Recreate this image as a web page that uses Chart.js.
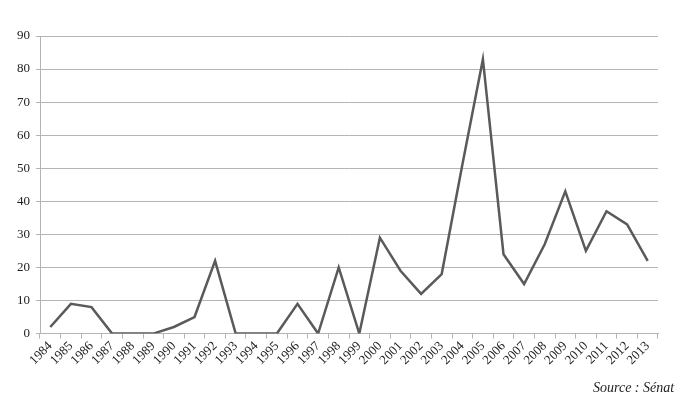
<!DOCTYPE html>
<html>
<head>
<meta charset="utf-8">
<script src="https://cdn.jsdelivr.net/npm/chart.js@4"></script>
<style>
html,body{margin:0;padding:0;background:#fff;}
#wrap{position:relative;width:695px;height:412px;}
#src{position:absolute;left:593px;top:380px;font-family:"Liberation Serif","DejaVu Serif",serif;font-style:italic;font-size:14px;color:#222;white-space:nowrap;}
</style>
</head>
<body>
<div id="wrap"><canvas id="c" width="695" height="412"></canvas><div id="src"></div></div>
<script>
const years = ['1984','1985','1986','1987','1988','1989','1990','1991','1992','1993','1994','1995','1996','1997','1998','1999','2000','2001','2002','2003','2004','2005','2006','2007','2008','2009','2010','2011','2012','2013'];
const values = [2,9,8,0,0,0,2,5,22,0,0,0,9,0,20,0,29,19,12,18,51,83,24,15,27,43,25,37,33,22];
const sourceText = 'Source : Sénat';
document.getElementById('src').textContent = sourceText;

const tickFontY = {family: '"Liberation Serif", "DejaVu Serif", serif', size: 13};
const tickFontX = {family: '"Liberation Serif", "DejaVu Serif", serif', size: 13};

new Chart(document.getElementById('c'), {
  type: 'line',
  data: {
    labels: years,
    datasets: [{
      data: values,
      borderColor: '#5a5a5a',
      borderWidth: 2.5,
      pointRadius: 0,
      tension: 0,
      fill: false
    }]
  },
  options: {
    responsive: false,
    animation: false,
    layout: {padding: {left: 11, right: 37, top: 36, bottom: 44}},
    plugins: {
      legend: {display: false},
      tooltip: {enabled: false},
      title: {display: false}
    },
    scales: {
      x: {
        offset: true,
        grid: {display: true, drawOnChartArea: false, drawTicks: true, tickLength: 5, color: '#b4b4b4', offset: true},
        border: {display: true, color: '#b4b4b4', width: 1},
        ticks: {color: '#222', font: tickFontX, maxRotation: 45, minRotation: 45, autoSkip: false, padding: 0}
      },
      y: {
        min: 0, max: 90,
        ticks: {stepSize: 10, color: '#222', font: tickFontY, padding: 6},
        grid: {color: '#b4b4b4', lineWidth: 1, drawTicks: true, tickLength: 4},
        border: {display: true, color: '#b4b4b4', width: 1}
      }
    }
  }
});
</script>
</body>
</html>
